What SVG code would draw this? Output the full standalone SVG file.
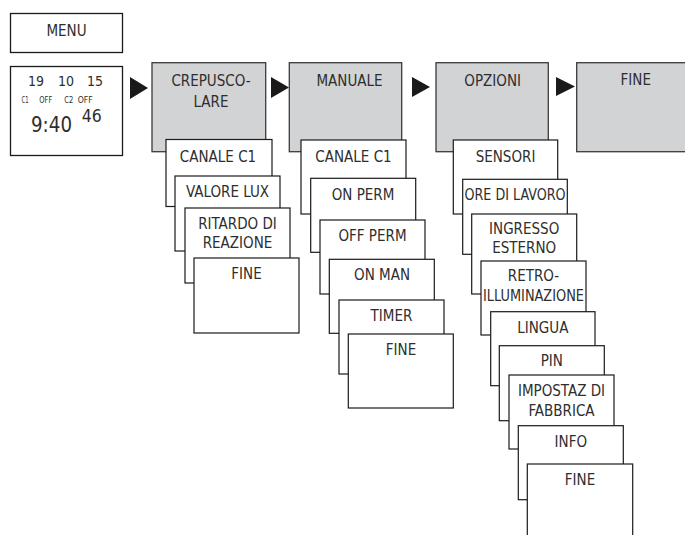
<svg xmlns="http://www.w3.org/2000/svg" width="685" height="535" viewBox="0 0 685 535">
<style>
text{font-family:"Liberation Sans Narrow","DejaVu Sans Condensed","Liberation Sans",sans-serif;font-size:15px;fill:#2e2e2e;text-anchor:middle}
.box{fill:#fff;stroke:#1a1a1a;stroke-width:1.3}
.hdr{fill:#d2d3d5;stroke:#3a3a3a;stroke-width:1.3}
.card{fill:#fff;stroke:#1a1a1a;stroke-width:1.2}
.arrow{fill:#1a1a1a}
.s{text-anchor:start}
.sm{font-size:8.5px}
</style>
<rect width="685" height="535" fill="#fff"/>
<g id="menu"><rect class="box" x="10.5" y="13.5" width="112" height="39"/><text x="66.5" y="36">MENU</text></g>
<g id="clock"><rect class="box" x="10.5" y="66.5" width="112" height="89"/>
<text class="s" x="28" y="86" style="font-size:14px">19</text>
<text class="s" x="58" y="86" style="font-size:14px">10</text>
<text class="s" x="87" y="86" style="font-size:14px">15</text>
<text class="s sm" x="21.5" y="103" textLength="7" lengthAdjust="spacingAndGlyphs">C1</text>
<text class="s sm" x="39.3" y="103" textLength="13" lengthAdjust="spacingAndGlyphs">OFF</text>
<text class="s sm" x="64.3" y="103" textLength="9" lengthAdjust="spacingAndGlyphs">C2</text>
<text class="s sm" x="77.7" y="103" textLength="15" lengthAdjust="spacingAndGlyphs">OFF</text>
<text class="s" x="31" y="131.7" style="font-size:22px" textLength="41" lengthAdjust="spacingAndGlyphs">9:40</text>
<text class="s" x="81.7" y="122" style="font-size:18px" textLength="20" lengthAdjust="spacingAndGlyphs">46</text>
</g>
<g id="connectors">
<polygon class="arrow" points="130,77 130,99 148,88"/>
<polygon class="arrow" points="271,77 271,98 289,87.5"/>
<polygon class="arrow" points="412,77 412,97 430,87"/>
<polygon class="arrow" points="556,77 556,96 575,86.5"/>
</g>
<g id="crepuscolare"><rect class="hdr" x="152" y="62.7" width="113.7" height="89"/><text x="211" y="85.7">CREPUSCO-</text><text x="211" y="106.7">LARE</text></g>
<g id="crep-canale"><rect class="card" x="166" y="139.5" width="106" height="67"/><text x="218" y="162">CANALE C1</text></g>
<g id="crep-lux"><rect class="card" x="175" y="176" width="105" height="75"/><text x="227.5" y="197">VALORE LUX</text></g>
<g id="crep-ritardo"><rect class="card" x="185" y="208" width="105" height="75"/><text x="237.5" y="229">RITARDO DI</text><text x="237.5" y="248">REAZIONE</text></g>
<g id="crep-fine"><rect class="card" x="194" y="258" width="105" height="75"/><text x="246.5" y="279">FINE</text></g>
<g id="manuale"><rect class="hdr" x="289.3" y="62.7" width="112.4" height="89"/><text x="349.5" y="86">MANUALE</text></g>
<g id="man-canale"><rect class="card" x="301" y="140" width="105" height="74"/><text x="353.5" y="162.3">CANALE C1</text></g>
<g id="man-onperm"><rect class="card" x="310.7" y="178.3" width="105" height="74"/><text x="363" y="200">ON PERM</text></g>
<g id="man-offperm"><rect class="card" x="320" y="220" width="105" height="74"/><text x="372.5" y="240.7">OFF PERM</text></g>
<g id="man-onman"><rect class="card" x="329.3" y="259.3" width="105" height="74"/><text x="382" y="280">ON MAN</text></g>
<g id="man-timer"><rect class="card" x="339" y="300" width="105" height="74"/><text x="391.5" y="320.7">TIMER</text></g>
<g id="man-fine"><rect class="card" x="348.3" y="334" width="105" height="74"/><text x="401" y="355">FINE</text></g>
<g id="opzioni"><rect class="hdr" x="436" y="62.7" width="112.3" height="89"/><text x="492.7" y="85.7">OPZIONI</text></g>
<g id="opz-sensori"><rect class="card" x="453.3" y="140" width="104.4" height="74"/><text x="505.5" y="161.7">SENSORI</text></g>
<g id="opz-ore"><rect class="card" x="462.7" y="179.3" width="104.6" height="75"/><text x="515" y="200" textLength="101" lengthAdjust="spacingAndGlyphs">ORE DI LAVORO</text></g>
<g id="opz-ingresso"><rect class="card" x="471.7" y="214" width="105" height="80"/><text x="524.2" y="234.3">INGRESSO</text><text x="524.2" y="253.3">ESTERNO</text></g>
<g id="opz-retro"><rect class="card" x="481" y="261" width="105" height="74"/><text x="533.5" y="281">RETRO-</text><text x="533.5" y="300.7" textLength="101" lengthAdjust="spacingAndGlyphs">ILLUMINAZIONE</text></g>
<g id="opz-lingua"><rect class="card" x="490.7" y="311.7" width="104.3" height="74"/><text x="542.8" y="332.7">LINGUA</text></g>
<g id="opz-pin"><rect class="card" x="499.3" y="345.7" width="105" height="75"/><text x="551.8" y="366">PIN</text></g>
<g id="opz-impostaz"><rect class="card" x="509" y="375" width="105" height="74"/><text x="561.5" y="396">IMPOSTAZ DI</text><text x="561.5" y="415.7">FABBRICA</text></g>
<g id="opz-info"><rect class="card" x="518.3" y="425.7" width="105" height="74"/><text x="570.8" y="446.7">INFO</text></g>
<g id="opz-fine"><rect class="card" x="527.3" y="464" width="105.4" height="80"/><text x="580" y="485">FINE</text></g>
<g id="fine"><rect class="hdr" x="576.7" y="62.7" width="115" height="89"/><text x="635.8" y="85">FINE</text></g>
</svg>
